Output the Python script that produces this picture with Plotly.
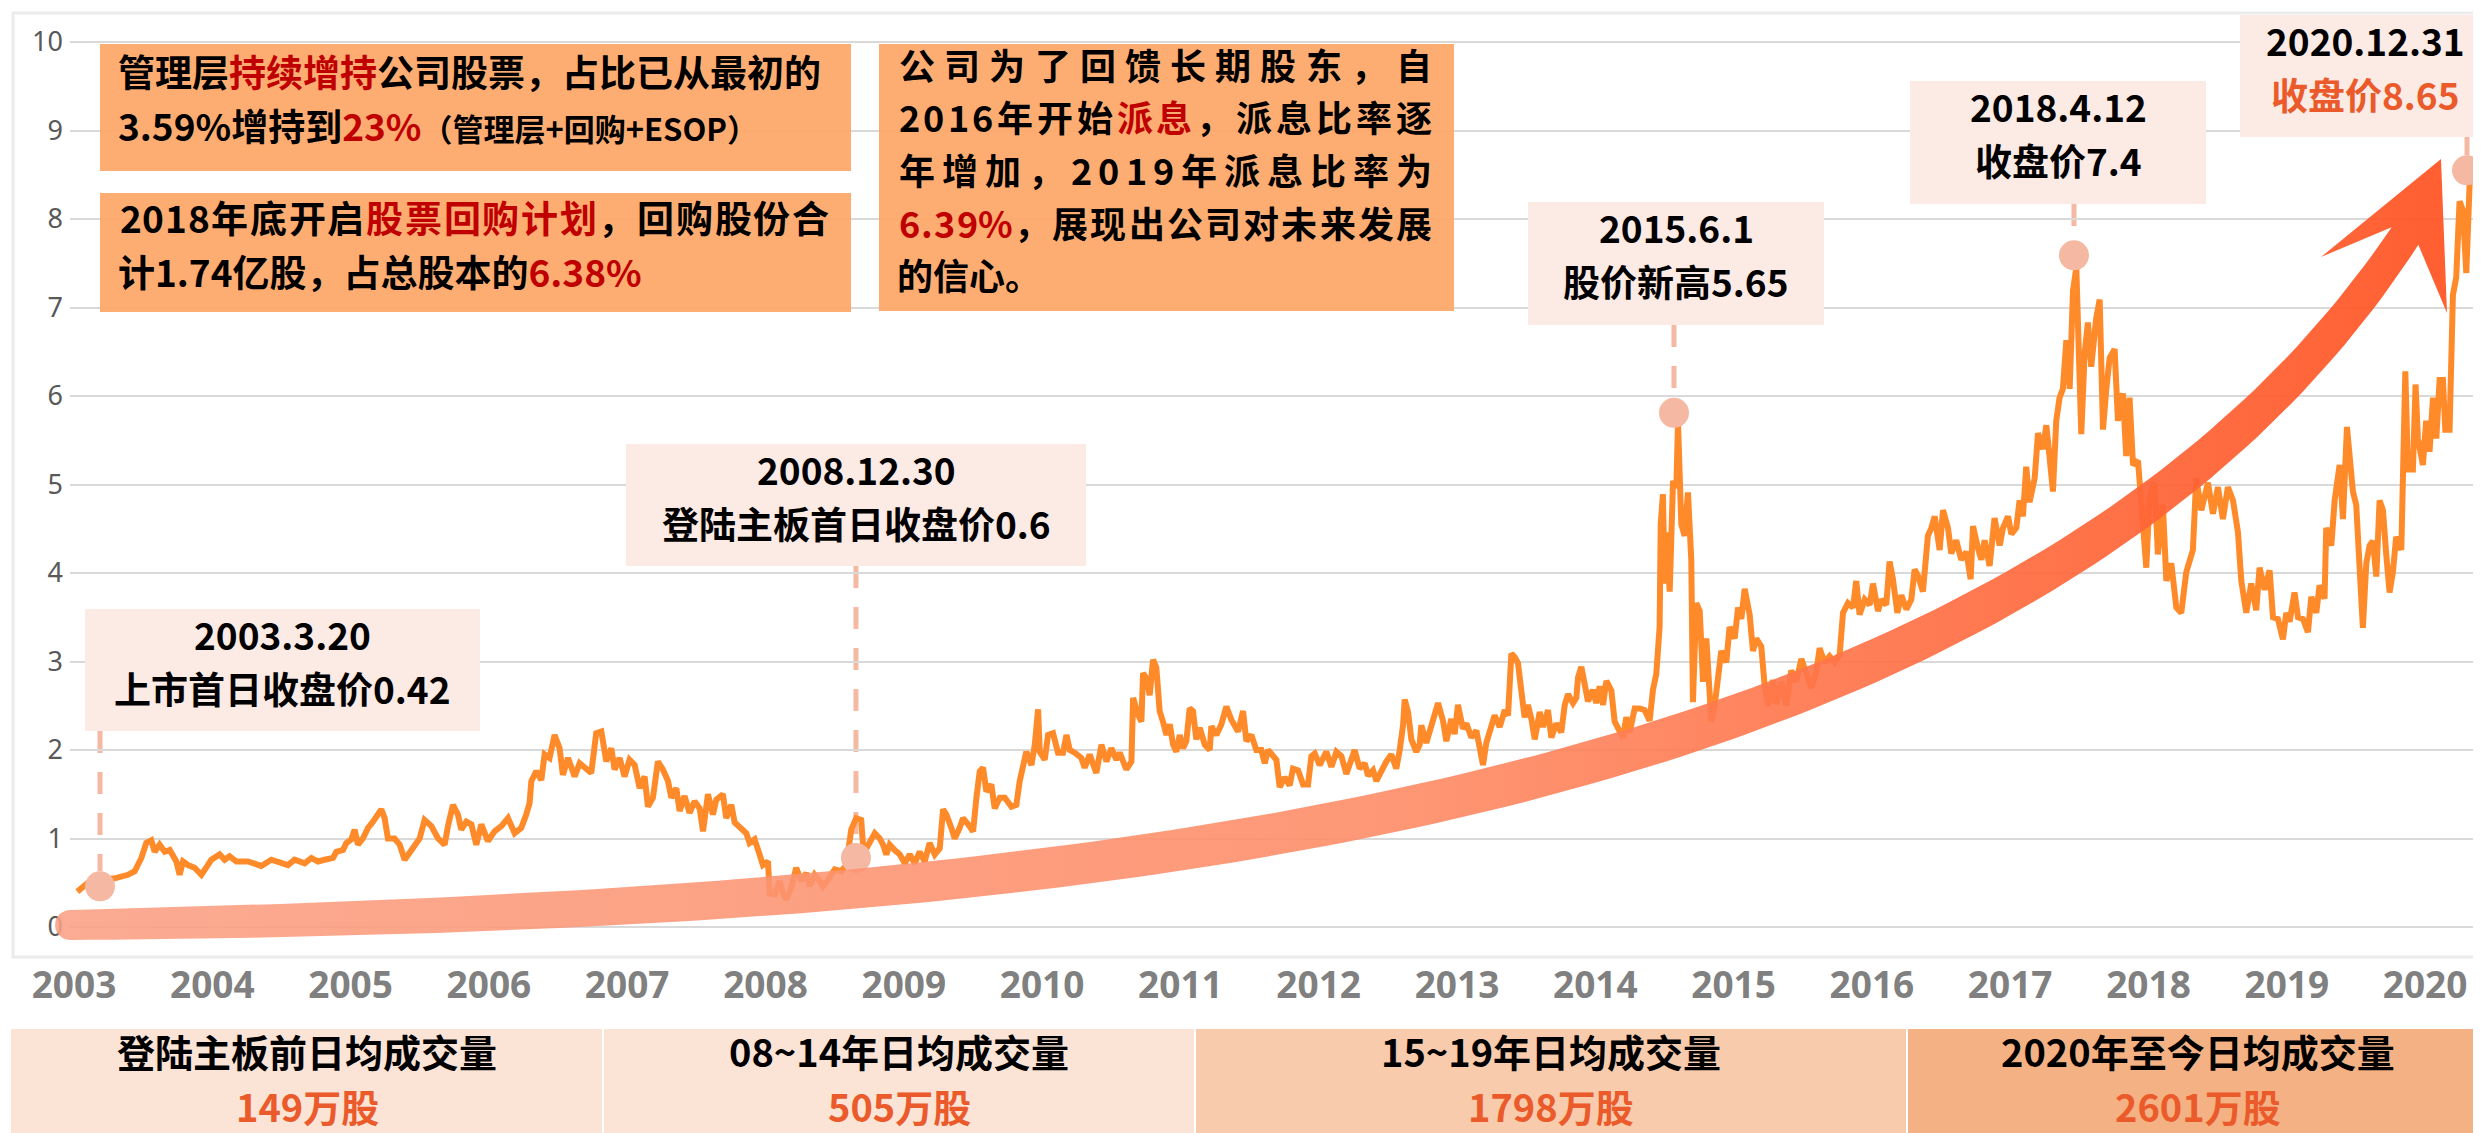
import numpy as np
import plotly.graph_objects as go

# ---------------------------------------------------------------- data
years = list(range(2003, 2021))
year_labels = [str(y) for y in years]
y_ticks = list(range(0, 11))

# closing price (x = position on the year axis)
seg1_x = [2003.024, 2003.101, 2003.186, 2003.294, 2003.390, 2003.439, 2003.487, 2003.523, 2003.559, 2003.583,
          2003.619, 2003.656, 2003.692, 2003.740, 2003.764, 2003.788, 2003.824, 2003.872, 2003.921, 2003.957,
          2003.993, 2004.053, 2004.089, 2004.125, 2004.174, 2004.258, 2004.354, 2004.427, 2004.499, 2004.547,
          2004.595, 2004.668, 2004.716, 2004.764, 2004.812, 2004.873, 2004.897, 2004.945, 2004.969, 2005.005,
          2005.029, 2005.053, 2005.089, 2005.126, 2005.162, 2005.198, 2005.222, 2005.246, 2005.270, 2005.318,
          2005.355, 2005.391, 2005.427, 2005.463, 2005.499, 2005.535, 2005.584, 2005.632, 2005.680, 2005.704,
          2005.740]
seg1_y = [0.40, 0.50, 0.53, 0.55, 0.59, 0.63, 0.78, 0.95, 0.98, 0.85,
          0.93, 0.85, 0.87, 0.74, 0.59, 0.74, 0.70, 0.67, 0.59, 0.69,
          0.76, 0.82, 0.76, 0.80, 0.74, 0.74, 0.69, 0.76, 0.72, 0.70,
          0.76, 0.72, 0.78, 0.74, 0.76, 0.78, 0.85, 0.87, 0.95, 0.99,
          1.10, 0.93, 1.00, 1.12, 1.19, 1.27, 1.33, 1.23, 1.00, 1.00,
          0.93, 0.76, 0.85, 0.91, 1.00, 1.21, 1.14, 1.00, 0.93, 1.14,
          1.38]

seg2_x = [2005.776, 2005.800, 2005.837, 2005.873, 2005.909, 2005.945, 2005.993, 2006.041, 2006.090, 2006.138,
          2006.186, 2006.234, 2006.270, 2006.294, 2006.307, 2006.343, 2006.379, 2006.403, 2006.439, 2006.475,
          2006.511, 2006.535, 2006.572, 2006.620, 2006.656, 2006.692, 2006.740, 2006.776, 2006.813, 2006.849,
          2006.885, 2006.909, 2006.945, 2006.981, 2007.017, 2007.054, 2007.090, 2007.126, 2007.150, 2007.186,
          2007.222, 2007.258, 2007.295, 2007.319, 2007.355, 2007.379, 2007.415, 2007.451, 2007.487, 2007.524,
          2007.548, 2007.584, 2007.620, 2007.644, 2007.692, 2007.716, 2007.753, 2007.777, 2007.825, 2007.861,
          2007.885, 2007.921, 2007.957, 2007.981, 2008.018, 2008.030, 2008.066, 2008.102, 2008.126, 2008.150,
          2008.186, 2008.222, 2008.259, 2008.295, 2008.319, 2008.355, 2008.391, 2008.415, 2008.451, 2008.500,
          2008.548, 2008.584, 2008.620, 2008.656, 2008.692]
seg2_y = [1.27, 1.10, 1.19, 1.16, 0.93, 1.16, 0.97, 1.08, 1.14, 1.23,
          1.06, 1.12, 1.27, 1.40, 1.65, 1.76, 1.66, 1.95, 1.91, 2.17,
          2.02, 1.72, 1.91, 1.70, 1.85, 1.80, 1.74, 2.19, 2.21, 1.87,
          2.02, 1.78, 1.91, 1.70, 1.89, 1.83, 1.57, 1.70, 1.36, 1.46,
          1.87, 1.78, 1.65, 1.46, 1.57, 1.31, 1.48, 1.29, 1.42, 1.34,
          1.08, 1.50, 1.27, 1.44, 1.50, 1.23, 1.38, 1.18, 1.12, 1.06,
          0.95, 0.99, 0.82, 0.70, 0.74, 0.38, 0.37, 0.52, 0.38, 0.31,
          0.44, 0.67, 0.52, 0.61, 0.46, 0.59, 0.52, 0.46, 0.53, 0.65,
          0.63, 0.70, 1.10, 1.23, 1.21]

seg3_x = [2008.705, 2008.730, 2008.766, 2008.790, 2008.826, 2008.850, 2008.874, 2008.898, 2008.934, 2008.971,
          2009.007, 2009.043, 2009.079, 2009.115, 2009.151, 2009.187, 2009.224, 2009.260, 2009.284, 2009.308,
          2009.344, 2009.368, 2009.404, 2009.428, 2009.465, 2009.501, 2009.525, 2009.549, 2009.573, 2009.597,
          2009.633, 2009.657, 2009.694, 2009.730, 2009.778, 2009.814, 2009.838, 2009.862, 2009.886, 2009.923,
          2009.947, 2009.971, 2009.983, 2010.019, 2010.043, 2010.079, 2010.115, 2010.151, 2010.176, 2010.200,
          2010.236, 2010.284, 2010.308, 2010.344, 2010.392, 2010.429, 2010.465, 2010.501, 2010.537, 2010.561,
          2010.609, 2010.646, 2010.658, 2010.694, 2010.718, 2010.730, 2010.754, 2010.778, 2010.802, 2010.826,
          2010.850, 2010.874, 2010.899, 2010.923, 2010.947, 2010.971, 2010.995, 2011.019, 2011.043, 2011.067,
          2011.091, 2011.115, 2011.140, 2011.176, 2011.212, 2011.224, 2011.260, 2011.296, 2011.332, 2011.369,
          2011.417, 2011.453, 2011.477, 2011.513, 2011.549, 2011.585, 2011.610, 2011.634]
seg3_y = [0.93, 0.89, 1.00, 1.06, 1.00, 0.93, 0.82, 0.93, 0.87, 0.82,
          0.72, 0.82, 0.72, 0.85, 0.74, 0.95, 0.82, 0.89, 1.33, 1.27,
          1.12, 1.00, 1.12, 1.23, 1.16, 1.08, 1.46, 1.76, 1.80, 1.53,
          1.61, 1.34, 1.46, 1.46, 1.36, 1.38, 1.65, 1.82, 1.98, 1.83,
          2.06, 2.46, 1.98, 1.89, 2.17, 2.19, 1.97, 1.97, 2.17, 2.00,
          1.97, 1.91, 1.80, 1.95, 1.74, 2.06, 1.87, 2.02, 1.89, 1.97,
          1.78, 1.87, 2.59, 2.40, 2.32, 2.87, 2.81, 2.62, 3.02, 2.93,
          2.44, 2.32, 2.17, 2.29, 2.06, 1.98, 2.17, 2.02, 2.10, 2.47,
          2.44, 2.12, 2.25, 2.06, 2.00, 2.27, 2.17, 2.29, 2.49, 2.34,
          2.21, 2.44, 2.10, 2.17, 2.00, 2.00, 1.85, 2.00]

seg4_x = [2011.658, 2011.694, 2011.718, 2011.754, 2011.790, 2011.814, 2011.851, 2011.887, 2011.923, 2011.947,
          2011.971, 2012.007, 2012.055, 2012.092, 2012.128, 2012.164, 2012.200, 2012.236, 2012.260, 2012.296,
          2012.333, 2012.357, 2012.393, 2012.417, 2012.453, 2012.489, 2012.525, 2012.561, 2012.586, 2012.610,
          2012.622, 2012.646, 2012.670, 2012.706, 2012.730, 2012.742, 2012.778, 2012.815, 2012.839, 2012.863,
          2012.899, 2012.923, 2012.959, 2012.983, 2013.007, 2013.043, 2013.068, 2013.104, 2013.140, 2013.164,
          2013.188, 2013.212, 2013.236, 2013.272, 2013.309, 2013.345, 2013.369, 2013.393, 2013.417, 2013.441,
          2013.465, 2013.489, 2013.513, 2013.538, 2013.562, 2013.598, 2013.622, 2013.658, 2013.682, 2013.718,
          2013.754, 2013.779, 2013.803, 2013.839, 2013.863, 2013.875, 2013.899, 2013.923, 2013.947, 2013.983,
          2014.007, 2014.032, 2014.056, 2014.080, 2014.116, 2014.140, 2014.176, 2014.200, 2014.224, 2014.248,
          2014.285, 2014.321, 2014.357, 2014.393]
seg4_y = [1.96, 1.89, 1.58, 1.69, 1.60, 1.79, 1.77, 1.61, 1.61, 1.93,
          1.96, 1.83, 1.98, 1.81, 1.98, 1.93, 1.73, 1.87, 2.00, 1.79,
          1.85, 1.71, 1.77, 1.65, 1.77, 1.87, 1.95, 1.79, 2.00, 2.28,
          2.57, 2.43, 2.12, 1.98, 2.06, 2.28, 2.08, 2.26, 2.37, 2.53,
          2.33, 2.10, 2.35, 2.18, 2.51, 2.24, 2.30, 2.14, 2.22, 2.02,
          1.83, 2.08, 2.20, 2.39, 2.26, 2.45, 2.39, 3.09, 3.05, 2.98,
          2.67, 2.37, 2.51, 2.35, 2.12, 2.43, 2.26, 2.45, 2.14, 2.30,
          2.20, 2.51, 2.63, 2.53, 2.59, 2.82, 2.94, 2.74, 2.55, 2.68,
          2.53, 2.72, 2.51, 2.78, 2.67, 2.32, 2.20, 2.14, 2.37, 2.20,
          2.47, 2.47, 2.45, 2.33]

seg5_x = [2014.417, 2014.441, 2014.465, 2014.473, 2014.489, 2014.502, 2014.514, 2014.538, 2014.562, 2014.586,
          2014.598, 2014.622, 2014.646, 2014.670, 2014.694, 2014.706, 2014.730, 2014.755, 2014.779, 2014.803,
          2014.839, 2014.863, 2014.887, 2014.911, 2014.947, 2014.971, 2015.008, 2015.032, 2015.056, 2015.080,
          2015.116, 2015.140, 2015.164, 2015.200, 2015.225, 2015.249, 2015.285, 2015.309, 2015.345, 2015.381,
          2015.417, 2015.453, 2015.490, 2015.526, 2015.562, 2015.598, 2015.622, 2015.658, 2015.694, 2015.731,
          2015.767, 2015.791, 2015.827, 2015.863, 2015.887, 2015.911, 2015.948, 2015.984, 2016.008, 2016.044,
          2016.068, 2016.104, 2016.128, 2016.152, 2016.184, 2016.213, 2016.249, 2016.285, 2016.309, 2016.333,
          2016.369, 2016.405, 2016.430, 2016.454, 2016.490, 2016.514, 2016.550, 2016.574, 2016.610, 2016.646,
          2016.683, 2016.714, 2016.731, 2016.767, 2016.791, 2016.815, 2016.851, 2016.887, 2016.924, 2016.948,
          2016.984, 2017.008, 2017.044, 2017.068, 2017.092, 2017.116, 2017.140, 2017.177, 2017.201, 2017.237,
          2017.261, 2017.285]
seg5_y = [2.68, 2.86, 3.39, 4.55, 4.89, 3.88, 4.46, 3.79, 5.04, 4.96,
          5.70, 4.55, 4.42, 4.91, 4.15, 2.54, 3.66, 3.57, 2.77, 3.26,
          2.32, 2.50, 2.81, 3.12, 2.99, 3.39, 3.26, 3.61, 3.48, 3.82,
          3.53, 3.12, 3.26, 3.17, 2.72, 2.50, 2.79, 2.52, 2.77, 2.50,
          2.90, 2.77, 3.03, 2.88, 2.70, 2.88, 3.15, 2.99, 3.06, 2.99,
          3.08, 3.55, 3.66, 3.61, 3.91, 3.53, 3.70, 3.64, 3.88, 3.57,
          3.70, 3.64, 4.13, 3.93, 3.55, 3.75, 3.59, 3.70, 4.04, 3.97,
          3.79, 4.42, 4.51, 4.64, 4.26, 4.71, 4.51, 4.22, 4.37, 4.15,
          4.24, 3.93, 4.53, 4.28, 4.15, 4.37, 4.08, 4.62, 4.31, 4.51,
          4.64, 4.44, 4.51, 4.82, 4.64, 5.20, 4.80, 5.07, 5.58, 5.40,
          5.67, 5.31]

seg6_x = [2017.309, 2017.333, 2017.357, 2017.381, 2017.406, 2017.430, 2017.454, 2017.478, 2017.502, 2017.514,
          2017.538, 2017.562, 2017.586, 2017.622, 2017.647, 2017.671, 2017.695, 2017.719, 2017.755, 2017.779,
          2017.815, 2017.839, 2017.863, 2017.888, 2017.924, 2017.948, 2017.984, 2018.008, 2018.044, 2018.068,
          2018.104, 2018.129, 2018.165, 2018.201, 2018.237, 2018.273, 2018.321, 2018.345, 2018.382, 2018.430,
          2018.466, 2018.502, 2018.538, 2018.574, 2018.611, 2018.647, 2018.671, 2018.707, 2018.743, 2018.779,
          2018.803, 2018.840, 2018.876, 2018.900, 2018.936, 2018.972, 2018.996, 2019.020, 2019.056, 2019.081,
          2019.117, 2019.153, 2019.177, 2019.213, 2019.237, 2019.273, 2019.285, 2019.322, 2019.346, 2019.382,
          2019.406, 2019.435, 2019.454, 2019.478, 2019.502, 2019.526, 2019.550, 2019.575, 2019.599, 2019.623,
          2019.647, 2019.671, 2019.695, 2019.719, 2019.743, 2019.767, 2019.791, 2019.828, 2019.857, 2019.876,
          2019.912, 2019.931, 2019.948, 2019.984, 2020.008, 2020.032, 2020.057, 2020.081, 2020.105, 2020.129,
          2020.146, 2020.177, 2020.201, 2020.225, 2020.249, 2020.273, 2020.298, 2020.322, 2020.334]
seg6_y = [4.92, 5.72, 5.98, 6.08, 6.63, 6.08, 7.19, 7.45, 6.33, 5.57,
          6.48, 6.83, 6.33, 6.88, 7.09, 5.62, 6.08, 6.43, 6.53, 5.72,
          6.03, 5.32, 5.98, 5.22, 5.27, 4.71, 4.06, 4.87, 5.02, 4.21,
          4.77, 3.91, 4.11, 3.61, 3.55, 4.01, 4.26, 5.07, 4.71, 5.02,
          4.67, 4.97, 4.61, 4.97, 4.82, 4.46, 3.91, 3.55, 3.88, 3.58,
          4.06, 3.81, 4.03, 3.50, 3.48, 3.25, 3.55, 3.45, 3.78, 3.50,
          3.48, 3.33, 3.73, 3.55, 3.86, 3.71, 4.51, 4.31, 4.82, 5.22,
          4.61, 5.65, 5.32, 4.92, 4.77, 3.91, 3.38, 4.11, 4.31, 4.36,
          3.96, 4.82, 4.71, 4.21, 3.78, 4.01, 4.41, 4.26, 6.28, 5.17,
          5.17, 6.13, 5.52, 5.22, 5.72, 5.37, 5.98, 5.52, 6.18, 6.18,
          5.62, 5.62, 7.14, 7.34, 8.20, 8.10, 7.39, 8.40, 8.55]

# highlighted events
hl_x = [2003.188, 2008.654, 2014.569, 2017.461, 2020.303]
hl_y = [0.46, 0.78, 5.81, 7.59, 8.55]
hl_date = ["2003.3.20", "2008.12.30", "2015.6.1", "2018.4.12", "2020.12.31"]
hl_desc = ["上市首日收盘价0.42", "登陆主板首日收盘价0.6", "股价新高5.65", "收盘价7.4", "收盘价8.65"]

# average daily volume by period
vol_periods = ["登陆主板前日均成交量", "08~14年日均成交量", "15~19年日均成交量", "2020年至今日均成交量"]
vol_values = ["149万股", "505万股", "1798万股", "2601万股"]

# ---------------------------------------------------------------- geometry
W, H = 2481, 1133
ML, MR, MT, MB = 36, 15, 7, 183
PW, PH = W - ML - MR, H - MT - MB
LABEL0_PX, PX_PER_YEAR = 66.0, 138.3
ZERO_PY, PX_PER_UNIT = 919.0, 88.5
PLOT_LEFT_PX = 62
TEXT_DY = -9   # visual centring correction for annotation text


def xu(px):
    return 2003 + (px - LABEL0_PX) / PX_PER_YEAR


def yv(py):
    return (ZERO_PY - py) / PX_PER_UNIT


def pxp(px):
    return (px - ML) / PW


def pyp(py):
    return (H - MB - py) / PH


CJK = "Noto Sans CJK SC, Noto Sans, sans-serif"
BLACK = "#000000"
RED = "#C00000"
ORANGE_RED = "#EA5A2A"
MARKER_C = "#F4B8A3"
LINE_C = "#FF8A2A"
BOX_ORANGE = "rgba(254,167,103,0.93)"
BOX_PINK = "#FCEAE4"

price_x = seg1_x + seg2_x + seg3_x + seg4_x + seg5_x + seg6_x
price_y = seg1_y + seg2_y + seg3_y + seg4_y + seg5_y + seg6_y

fig = go.Figure()
fig.add_trace(go.Scatter(x=price_x, y=price_y, mode="lines",
                         line=dict(color=LINE_C, width=6), hoverinfo="skip",
                         xaxis="x", yaxis="y"))
fig.add_trace(go.Scatter(x=hl_x, y=hl_y, mode="markers",
                         marker=dict(size=30, color=MARKER_C), hoverinfo="skip",
                         xaxis="x", yaxis="y"))

# ---------------------------------------------------------------- growth arrow (decoration)
P = np.array([[62, 917], [1000, 902], [2000, 830], [2397, 228]], float)
t = np.linspace(0, 1, 140)
b0, b1, b2, b3 = (1 - t) ** 3, 3 * (1 - t) ** 2 * t, 3 * (1 - t) * t ** 2, t ** 3
B = b0[:, None] * P[0] + b1[:, None] * P[1] + b2[:, None] * P[2] + b3[:, None] * P[3]
dB = (3 * ((1 - t) ** 2)[:, None] * (P[1] - P[0]) + 6 * ((1 - t) * t)[:, None] * (P[2] - P[1])
      + 3 * (t ** 2)[:, None] * (P[3] - P[2]))
T = dB / np.linalg.norm(dB, axis=1)[:, None]
N = np.stack([T[:, 1], -T[:, 0]], axis=1)
hw = (30 + 2 * t + 45 * t * (1 - t)) / 2
upper = B + N * hw[:, None]
lower = B - N * hw[:, None]
th = np.linspace(np.pi, 0, 20)
cap = B[0] - np.outer(np.sin(th), T[0]) * hw[0] + np.outer(np.cos(th), N[0]) * hw[0]
head = np.array([[2313, 249], [2433, 151], [2439, 305]], float)
poly = np.vstack([cap, upper, head, lower[::-1]])
fig.add_trace(go.Scatter(
    x=[xu(p) for p in poly[:, 0]], y=[yv(p) for p in poly[:, 1]],
    mode="lines", fill="toself", line=dict(width=0), hoverinfo="skip",
    fillgradient=dict(type="horizontal",
                      colorscale=[[0, "rgba(250,160,132,0.88)"], [0.55, "rgba(254,138,100,0.88)"],
                                  [1, "rgba(255,86,38,0.95)"]]),
    xaxis="x2", yaxis="y2"))

# ---------------------------------------------------------------- shapes & annotations
shapes = []
ann = []


def rect(x0, y0, x1, y1, fill, layer="above", line=None):
    shapes.append(dict(type="rect", xref="paper", yref="paper", x0=pxp(x0), x1=pxp(x1),
                       y0=pyp(y1), y1=pyp(y0), fillcolor=fill, layer=layer,
                       line=line or dict(width=0)))


def text(s, px, py, size, color=BLACK, xanchor="center"):
    ann.append(dict(text="<b>" + s + "</b>", x=pxp(px), y=pyp(py + TEXT_DY),
                    xref="paper", yref="paper", xanchor=xanchor, yanchor="middle",
                    showarrow=False, borderpad=0, borderwidth=0,
                    font=dict(family=CJK, size=size, color=color)))


def char_em(ch):
    if ord(ch) > 0x2E80:
        return 1.0
    if ch.isdigit():
        return 0.57
    if ch == ".":
        return 0.30
    if ch == "%":
        return 0.88
    return 0.5


def justified(segments, x0, x1, py, size):
    """distributed alignment: every character placed so the line fills x0..x1"""
    chars = [(c, col) for s, col in segments for c in s]
    widths = [char_em(c) * size for c, _ in chars]
    gap = (x1 - x0 - sum(widths)) / (len(chars) - 1)
    pos = x0
    for (c, col), w in zip(chars, widths):
        text(c, pos + w / 2, py, size, col)
        pos += w + gap


def red(s):
    return '<span style="color:%s">%s</span>' % (RED, s)


def orange(s):
    return '<span style="color:%s">%s</span>' % (ORANGE_RED, s)


# chart frame
shapes.append(dict(type="rect", xref="paper", yref="paper", x0=pxp(5), x1=pxp(2479),
                   y0=pyp(949), y1=pyp(5), line=dict(color="#EBEBEB", width=3), layer="below"))

# orange text boxes
FS = 37
rect(92, 36, 843, 163, BOX_ORANGE)
rect(92, 185, 843, 304, BOX_ORANGE)
rect(871, 36, 1446, 303, BOX_ORANGE)
text("管理层" + red("持续增持") + "公司股票，占比已从最初的", 110, 72, FS, xanchor="left")
text("3.59%增持到" + red("23%") + '<span style="font-size:31px">（管理层+回购+ESOP）</span>',
     110, 126, FS, xanchor="left")
justified([("2018年底开启", BLACK), ("股票回购计划", RED), ("，回购股份合", BLACK)], 112, 821, 218, FS)
text("计1.74亿股，占总股本的" + red("6.38%"), 110, 272, FS, xanchor="left")

FC = 36
c_lines_y = [65, 117.5, 170, 222.5, 275]
justified([("公司为了回馈长期股东，自", BLACK)], 891, 1424, c_lines_y[0], FC)
justified([("2016年开始", BLACK), ("派息", RED), ("，派息比率逐", BLACK)], 891, 1424, c_lines_y[1], FC)
justified([("年增加，2019年派息比率为", BLACK)], 891, 1424, c_lines_y[2], FC)
justified([("6.39%", RED), ("，展现出公司对未来发展", BLACK)], 891, 1424, c_lines_y[3], FC)
text("的信心。", 889, c_lines_y[4], FC, xanchor="left")

# event call-outs
callout_px = [(77, 601, 472, 723), (618, 436, 1078, 558), (1520, 194, 1816, 317),
              (1902, 73, 2198, 196), (2232, 7, 2490, 129)]
for i, (x0, y0, x1, y1) in enumerate(callout_px):
    rect(x0, y0, x1, y1, BOX_PINK)
    cx = (x0 + x1) / 2 if i < 4 else 2357
    text(hl_date[i], cx, y0 + 34, 37)
    text(hl_desc[i] if i < 4 else orange(hl_desc[i]), cx, y0 + 88, 37)
    shapes.append(dict(type="line", xref="x", yref="y", x0=hl_x[i], x1=hl_x[i],
                       y0=yv(y1), y1=hl_y[i] + 0.17, layer="below",
                       line=dict(color=MARKER_C, width=5, dash="22px,19px")))

# volume bands
band_edges = [3, 595, 1187, 1899, 2481]
band_colors = ["#FBE4D6", "#FBE4D6", "#F8CBAD", "#F4B183"]
for i in range(4):
    x0, x1 = band_edges[i] + (1 if i else 0), band_edges[i + 1] - (1 if i < 3 else 0)
    rect(x0, 1021, x1, 1133, band_colors[i])
    cx = (band_edges[i] + band_edges[i + 1]) / 2
    text(vol_periods[i], cx, 1051, 38)
    text(orange(vol_values[i]), cx, 1106, 38)

# ---------------------------------------------------------------- layout
fig.update_layout(
    width=W, height=H, autosize=False,
    margin=dict(l=ML, r=MR, t=MT, b=MB, pad=0, autoexpand=False),
    paper_bgcolor="white", plot_bgcolor="rgba(0,0,0,0)",
    showlegend=False,
    xaxis=dict(domain=[pxp(PLOT_LEFT_PX), 1], range=[xu(PLOT_LEFT_PX), xu(W - MR)],
               tickmode="array", tickvals=years, ticktext=year_labels,
               showgrid=False, zeroline=False, showline=False, ticks="", automargin=False,
               tickfont=dict(family="Noto Sans, sans-serif", size=37, color="#808080", weight="bold"),
               ticklabelstandoff=2, anchor="y", fixedrange=True),
    xaxis2=dict(domain=[0, 1], range=[xu(ML), xu(W - MR)], visible=False, anchor="y2",
                automargin=False, fixedrange=True),
    yaxis=dict(domain=[0, 1], range=[yv(H - MB), yv(MT)], tickmode="array", tickvals=y_ticks,
               showgrid=True, gridcolor="#D9D9D9", gridwidth=2,
               zeroline=True, zerolinecolor="#D9D9D9", zerolinewidth=2,
               showline=False, ticks="", automargin=False,
               tickfont=dict(family="Noto Sans, sans-serif", size=27, color="#595959"),
               ticklabelstandoff=6, anchor="x", fixedrange=True),
    yaxis2=dict(domain=[0, 1], range=[yv(H - MB), yv(MT)], visible=False, anchor="x2",
                automargin=False, fixedrange=True),
    shapes=shapes,
    annotations=ann,
)

fig.write_html("out.html")
